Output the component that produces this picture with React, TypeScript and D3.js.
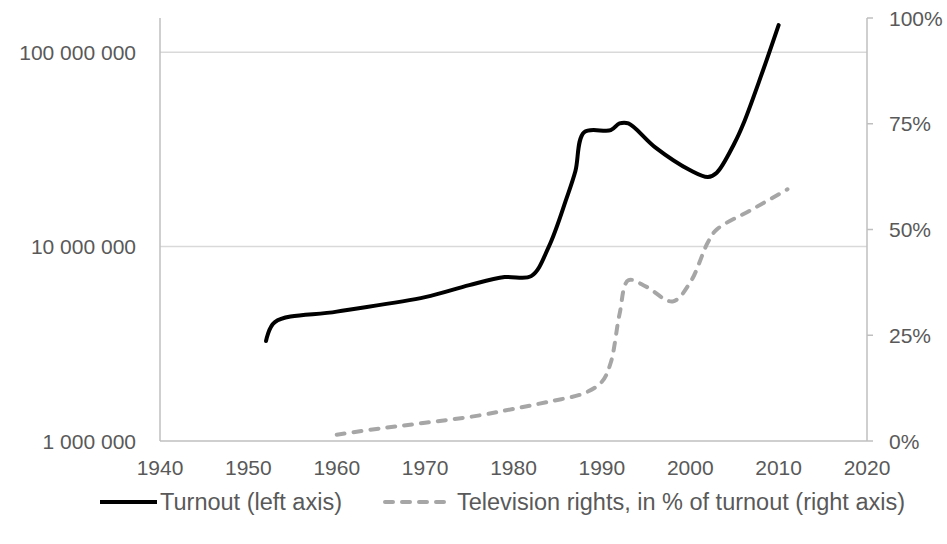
import React, { useRef, useEffect } from "react";
import * as d3 from "d3";

const W = 947;
const H = 544;
const margin = { top: 18, right: 80, bottom: 103, left: 160 };

const turnoutYears = [1952, 1953, 1960, 1970, 1975, 1979, 1982, 1984, 1986, 1987, 1988, 1991, 1992, 1993, 1996, 2000, 2002, 2003, 2005, 2006, 2008, 2010];
const turnoutValues = [3.27e6, 4.09e6, 4.63e6, 5.5e6, 6.34e6, 6.97e6, 7.05e6, 1.0e7, 1.77e7, 2.44e7, 3.88e7, 3.97e7, 4.3e7, 4.3e7, 3.25e7, 2.47e7, 2.28e7, 2.4e7, 3.4e7, 4.27e7, 7.53e7, 1.38e8];

const tvYears = [1960, 1965, 1970, 1976, 1980, 1984, 1988, 1990, 1991, 1992, 1993, 1995, 1998, 2000, 2002, 2003, 2007, 2011];
const tvShare = [1.5, 3.0, 4.3, 6.0, 7.6, 9.3, 11.3, 14.0, 18.5, 30, 38, 36.5, 33, 37.5, 47, 50, 54.75, 59.5];

const xTicks = [1940, 1950, 1960, 1970, 1980, 1990, 2000, 2010, 2020];
const leftTicks = [1e6, 1e7, 1e8];
const rightTicks = [0, 25, 50, 75, 100];

const legendLabels = ["Turnout (left axis)", "Television rights, in % of turnout (right axis)"];

const font = "'Liberation Sans', Arial, sans-serif";
const textColor = "#595959";

export default function App() {
  const ref = useRef<SVGSVGElement | null>(null);

  useEffect(() => {
    const svg = d3.select(ref.current);
    svg.selectAll("*").remove();

    const x0 = margin.left;
    const x1 = W - margin.right;
    const y0 = H - margin.bottom;
    const y1 = margin.top;

    const x = d3.scaleLinear().domain([1940, 2020]).range([x0, x1]);
    const yL = d3.scaleLog().domain([1e6, 1.5e8]).range([y0, y1]);
    const yR = d3.scaleLinear().domain([0, 100]).range([y0, y1]);

    // gridlines
    svg
      .append("g")
      .selectAll("line")
      .data(leftTicks.slice(1))
      .enter()
      .append("line")
      .attr("x1", x0)
      .attr("x2", x1)
      .attr("y1", (d) => yL(d))
      .attr("y2", (d) => yL(d))
      .attr("stroke", "#d9d9d9")
      .attr("stroke-width", 1.5);

    // axis lines
    const axisColor = "#bfbfbf";
    svg.append("line").attr("x1", x0).attr("x2", x0).attr("y1", y1).attr("y2", y0).attr("stroke", axisColor).attr("stroke-width", 1.5);
    svg.append("line").attr("x1", x1).attr("x2", x1).attr("y1", y1).attr("y2", y0).attr("stroke", axisColor).attr("stroke-width", 1.5);
    svg.append("line").attr("x1", x0).attr("x2", x1).attr("y1", y0).attr("y2", y0).attr("stroke", axisColor).attr("stroke-width", 1.5);

    // right ticks
    svg
      .append("g")
      .selectAll("line")
      .data(rightTicks)
      .enter()
      .append("line")
      .attr("x1", x1)
      .attr("x2", x1 + 6)
      .attr("y1", (d) => yR(d))
      .attr("y2", (d) => yR(d))
      .attr("stroke", axisColor)
      .attr("stroke-width", 1.5);

    const fmt = (v: number) => d3.format(",")(v).replace(/,/g, " ");

    svg
      .append("g")
      .selectAll("text")
      .data(leftTicks)
      .enter()
      .append("text")
      .attr("x", x0 - 24)
      .attr("y", (d) => yL(d))
      .attr("text-anchor", "end")
      .attr("dominant-baseline", "central")
      .attr("font-family", font)
      .attr("font-size", 21)
      .attr("fill", textColor)
      .text((d) => fmt(d));

    svg
      .append("g")
      .selectAll("text")
      .data(rightTicks)
      .enter()
      .append("text")
      .attr("x", x1 + 22)
      .attr("y", (d) => yR(d))
      .attr("dominant-baseline", "central")
      .attr("font-family", font)
      .attr("font-size", 21)
      .attr("fill", textColor)
      .text((d) => d + "%");

    svg
      .append("g")
      .selectAll("text")
      .data(xTicks)
      .enter()
      .append("text")
      .attr("x", (d) => x(d))
      .attr("y", y0 + 26)
      .attr("text-anchor", "middle")
      .attr("dominant-baseline", "central")
      .attr("font-family", font)
      .attr("font-size", 21)
      .attr("fill", textColor)
      .text((d) => String(d));

    // turnout line
    const turnout = turnoutYears.map((yr, i) => [yr, turnoutValues[i]] as [number, number]);
    const lineL = d3
      .line<[number, number]>()
      .x((d) => x(d[0]))
      .y((d) => yL(d[1]))
      .curve(d3.curveCatmullRom.alpha(0.5));
    svg
      .append("path")
      .attr("d", lineL(turnout)!)
      .attr("fill", "none")
      .attr("stroke", "#000")
      .attr("stroke-width", 4)
      .attr("stroke-linecap", "round")
      .attr("stroke-linejoin", "round");

    // tv line
    const tv = tvYears.map((yr, i) => [yr, tvShare[i]] as [number, number]);
    const lineR = d3
      .line<[number, number]>()
      .x((d) => x(d[0]))
      .y((d) => yR(d[1]))
      .curve(d3.curveCatmullRom.alpha(0.5));
    svg
      .append("path")
      .attr("d", lineR(tv)!)
      .attr("fill", "none")
      .attr("stroke", "#a6a6a6")
      .attr("stroke-width", 4)
      .attr("stroke-dasharray", "8 9")
      .attr("stroke-linecap", "round");

    // legend
    const ly = 502;
    svg.append("line").attr("x1", 100).attr("x2", 157).attr("y1", ly).attr("y2", ly).attr("stroke", "#000").attr("stroke-width", 4);
    svg.append("text").attr("x", 160).attr("y", ly).attr("dominant-baseline", "central").attr("font-family", font).attr("font-size", 23.5).attr("fill", textColor).text(legendLabels[0]);
    svg.append("line").attr("x1", 385).attr("x2", 447).attr("y1", ly).attr("y2", ly).attr("stroke", "#a6a6a6").attr("stroke-width", 4).attr("stroke-dasharray", "8 9").attr("stroke-linecap", "round");
    svg.append("text").attr("x", 457).attr("y", ly).attr("dominant-baseline", "central").attr("font-family", font).attr("font-size", 23.5).attr("fill", textColor).text(legendLabels[1]);
  }, []);

  return (
    <div style={{ position: "fixed", left: 0, top: 0, width: W, height: H, background: "#fff" }}>
      <svg ref={ref} width={W} height={H} />
    </div>
  );
}
